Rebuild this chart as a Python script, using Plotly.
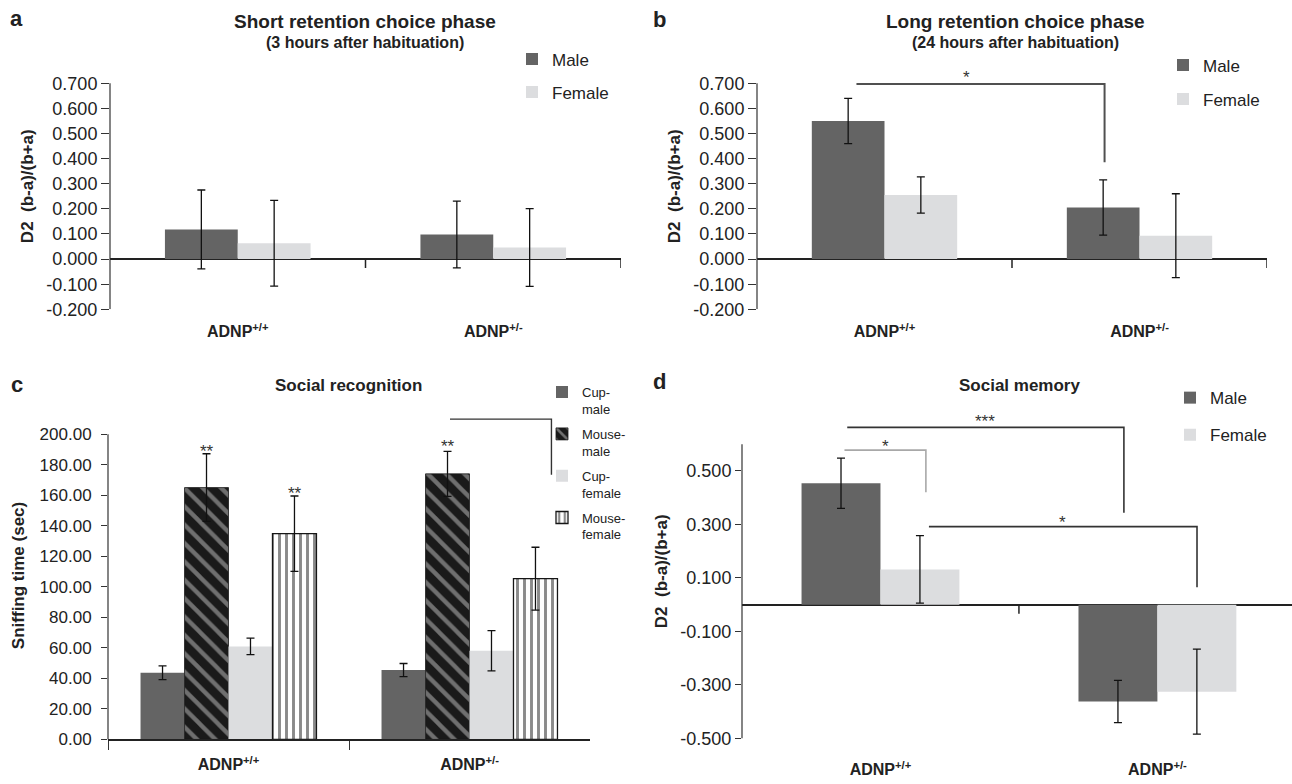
import plotly.graph_objects as go

# ---------------- data ----------------
groups = ["ADNP+/+", "ADNP+/-"]
group_labels = ["<b>ADNP<sup>+/+</sup></b>", "<b>ADNP<sup>+/-</sup></b>"]

# Panel a: short retention (3 h)
a_male = [0.118, 0.098]
a_male_err = [0.157, 0.133]
a_female = [0.063, 0.046]
a_female_err = [0.171, 0.155]

# Panel b: long retention (24 h)
b_male = [0.550, 0.205]
b_male_err = [0.090, 0.110]
b_female = [0.255, 0.093]
b_female_err = [0.072, 0.167]

# Panel c: social recognition (sniffing time, sec)
c_names = ["Cup-<br>male", "Mouse-<br>male", "Cup-<br>female", "Mouse-<br>female"]
c_cup_male = [43.7, 45.5]
c_cup_male_err = [4.5, 4.3]
c_mouse_male = [165.1, 174.1]
c_mouse_male_err = [22.2, 14.8]
c_cup_female = [61.0, 58.2]
c_cup_female_err = [5.4, 13.2]
c_mouse_female = [134.9, 105.4]
c_mouse_female_err = [24.7, 20.6]

# Panel d: social memory
d_male = [0.454, -0.362]
d_male_err = [0.094, 0.079]
d_female = [0.132, -0.325]
d_female_err = [0.126, 0.159]

# tick values
ab_ticks = [-0.2, -0.1, 0.0, 0.1, 0.2, 0.3, 0.4, 0.5, 0.6, 0.7]
c_ticks = [0, 20, 40, 60, 80, 100, 120, 140, 160, 180, 200]
d_ticks = [-0.5, -0.3, -0.1, 0.1, 0.3, 0.5]

# significance brackets: (x_start, x_end, y_level, y_drop_to, color, width)
b_brackets = [(-0.11, 0.863, 0.697, 0.386, "#505050", 2.0)]
b_stars = [("*", 0.323, 0.724)]
c_brackets = [(0.919, 1.34, 210, 173.5, "#333333", 1.4)]
c_stars = [("**", -0.091, 189.0), ("**", 0.274, 161.0), ("**", 0.909, 192.0)]
d_brackets = [(-0.13, 0.164, 0.578, 0.42, "#a8a8a8", 1.6),
              (-0.12, 0.879, 0.663, 0.344, "#333333", 1.6),
              (0.175, 1.143, 0.292, 0.065, "#333333", 1.6)]
d_stars = [("*", 0.019, 0.590), ("***", 0.377, 0.685), ("*", 0.657, 0.307)]

# ---------------- style ----------------
FONT = "Liberation Sans, Arial, Helvetica, sans-serif"
TXT = "#222222"
MALE = "#646464"
FEMALE = "#dcdddf"
W, H = 1292, 784


def px(x):
    return x / W


def py(y):
    return 1 - y / H


fig = go.Figure()

err_style = dict(type="data", color="#111111", thickness=1.3, width=4)


def add_bar(y, err, name, xa, ya, legend, color, pattern=None, line=None):
    marker = dict(color=color, line=line or dict(width=0))
    if pattern:
        marker["pattern"] = pattern
    fig.add_trace(go.Bar(
        x=groups, y=y, name=name, xaxis=xa, yaxis=ya,
        marker=marker, error_y=dict(array=err, **err_style),
        legend=legend, legendgroup=legend + name,
    ))


# panel a
add_bar(a_male, a_male_err, "Male", "x", "y", "legend", MALE)
add_bar(a_female, a_female_err, "Female", "x", "y", "legend", FEMALE)
# panel b
add_bar(b_male, b_male_err, "Male", "x2", "y2", "legend2", MALE)
add_bar(b_female, b_female_err, "Female", "x2", "y2", "legend2", FEMALE)
# panel c
add_bar(c_cup_male, c_cup_male_err, c_names[0], "x3", "y3", "legend3", MALE)
add_bar(c_mouse_male, c_mouse_male_err, c_names[1], "x3", "y3", "legend3", "#1a1a1a",
        pattern=dict(shape="\\", fgcolor="#c4c4c4", fillmode="overlay", size=13, solidity=0.33),
        line=dict(color="#1a1a1a", width=0.8))
add_bar(c_cup_female, c_cup_female_err, c_names[2], "x3", "y3", "legend3", FEMALE)
add_bar(c_mouse_female, c_mouse_female_err, c_names[3], "x3", "y3", "legend3", "white",
        pattern=dict(shape="|", fgcolor="#161616", fillmode="overlay", size=7, solidity=0.42),
        line=dict(color="#161616", width=1.3))
# panel d
add_bar(d_male, d_male_err, "Male", "x4", "y4", "legend4", MALE)
add_bar(d_female, d_female_err, "Female", "x4", "y4", "legend4", FEMALE)


def fmt(v, nd):
    return f"{v:.{nd}f}"


def yax(**kw):
    d = dict(showgrid=False, ticks="outside", tickcolor="#333333", tickwidth=1.2, showline=False,
             tickfont=dict(family=FONT, size=18, color=TXT),
             title_font=dict(family=FONT, size=17, color=TXT))
    d.update(kw)
    return d


def xax(**kw):
    d = dict(type="category", showgrid=False, tickvals=groups, ticktext=group_labels,
             tickfont=dict(family=FONT, size=16, color=TXT))
    d.update(kw)
    return d


YT = "<b>D2  (b-a)/(b+a)</b>"
ab_ydom = [py(313.3), py(64.0)]
fig.update_layout(
    xaxis=xax(domain=[px(110), px(621)], anchor="y", range=[-0.5, 1.5], showline=False, ticks="",
              ticklabelstandoff=11),
    yaxis=yax(domain=ab_ydom, anchor="x", range=[-0.2, 0.78], tickvals=ab_ticks,
              ticktext=[fmt(v, 3) for v in ab_ticks], ticklen=8, zeroline=True,
              zerolinecolor="#222222", zerolinewidth=1.5, title=dict(text=YT, standoff=8)),
    xaxis2=xax(domain=[px(757), px(1267)], anchor="y2", range=[-0.5, 1.5], showline=False, ticks="",
               ticklabelstandoff=11),
    yaxis2=yax(domain=ab_ydom, anchor="x2", range=[-0.2, 0.78], tickvals=ab_ticks,
               ticktext=[fmt(v, 3) for v in ab_ticks], ticklen=8, zeroline=True,
               zerolinecolor="#222222", zerolinewidth=1.5, title=dict(text=YT, standoff=8)),
    xaxis3=xax(domain=[px(108), px(590)], anchor="y3", range=[-0.5, 1.5], showline=True,
               linecolor="#222222", linewidth=1.5, ticks="outside", tickson="boundaries", ticklen=9,
               tickcolor="#333333", tickwidth=1.2, ticklabelstandoff=10),
    yaxis3=yax(domain=[py(749), py(416.8)], anchor="x3", range=[0, 215], tickvals=c_ticks,
               ticktext=[fmt(v, 2) for v in c_ticks], ticklen=6, zeroline=False, ticklabelstandoff=6,
               tickfont=dict(family=FONT, size=17, color=TXT),
               title=dict(text="<b>Sniffing time (sec)</b>", standoff=10)),
    xaxis4=xax(domain=[px(742), 1.0], anchor="y4", range=[-0.5, 1.486], showline=False, ticks="",
               ticklabelstandoff=20),
    yaxis4=yax(domain=[py(748), py(409.3)], anchor="x4", range=[-0.5, 0.75], tickvals=d_ticks,
               ticktext=[fmt(v, 3) for v in d_ticks], ticklen=6, zeroline=True,
               zerolinecolor="#222222", zerolinewidth=1.5, title=dict(text=YT, standoff=8)),
)

# legends
leg_common = dict(xanchor="left", yanchor="top", bgcolor="rgba(0,0,0,0)", traceorder="grouped",
                  itemwidth=30, itemclick=False, itemdoubleclick=False)
fig.update_layout(
    legend=dict(x=px(512), y=py(42), font=dict(family=FONT, size=17, color=TXT), tracegroupgap=8, **leg_common),
    legend2=dict(x=px(1163), y=py(48), font=dict(family=FONT, size=17, color=TXT), tracegroupgap=9, **leg_common),
    legend3=dict(x=px(542), y=py(382), font=dict(family=FONT, size=13, color=TXT), tracegroupgap=5,
                 valign="top", **leg_common),
    legend4=dict(x=px(1170), y=py(385), font=dict(family=FONT, size=17, color=TXT), tracegroupgap=12, **leg_common),
)

fig.update_layout(
    barmode="group", bargap=0.43, bargroupgap=0,
    width=W, height=H, margin=dict(l=0, r=0, t=0, b=0),
    paper_bgcolor="white", plot_bgcolor="white",
    font=dict(family=FONT, color=TXT),
)
# panel c: four bars per group with a narrower gap
c_bw = (1 - 0.27) / 4
for i, tr in enumerate(fig.data[4:8]):
    tr.width = c_bw
    tr.offset = -2 * c_bw + i * c_bw

shapes = []
# boundary ticks hanging from the zero lines (a, b, d)
for xr, yr, pos in [("x", "y", [0.5, 1.5]), ("x2", "y2", [0.5, 1.5]), ("x4", "y4", [0.5])]:
    for p in pos:
        shapes.append(dict(type="line", xref=xr, yref=yr, x0=p, x1=p, ysizemode="pixel", yanchor=0,
                           y0=0, y1=-9, line=dict(color="#222222", width=1.5)))
# y-axis lines (drawn only over the tick span)
for xr, yr, lo, hi in [("x domain", "y", -0.2, 0.7), ("x2 domain", "y2", -0.2, 0.7),
                       ("x3 domain", "y3", 0, 200), ("x4 domain", "y4", -0.5, 0.6)]:
    shapes.append(dict(type="line", xref=xr, yref=yr, x0=0, x1=0, y0=lo, y1=hi,
                       line=dict(color="#333333", width=1.2)))

annotations = []


def add_brackets(br, stars, xr, yr):
    for x0, x1, yl, yd, col, wd in br:
        shapes.append(dict(type="path", xref=xr, yref=yr,
                           path=f"M {x0},{yl} L {x1},{yl} L {x1},{yd}",
                           line=dict(color=col, width=wd)))
    for t, x, y in stars:
        annotations.append(dict(text=t, x=x, y=y, xref=xr, yref=yr, showarrow=False,
                                font=dict(family=FONT, size=17, color="#333333"),
                                xanchor="center", yanchor="middle"))


add_brackets(b_brackets, b_stars, "x2", "y2")
add_brackets(c_brackets, c_stars, "x3", "y3")
add_brackets(d_brackets, d_stars, "x4", "y4")

# titles and panel letters
texts = [
    ("<b>a</b>", 16, 19, 22), ("<b>b</b>", 659, 20, 22), ("<b>c</b>", 17, 389, 22), ("<b>d</b>", 659, 386, 22),
    ("<b>Short retention choice phase</b>", 365, 22, 19),
    ("<b>(3 hours after habituation)</b>", 365, 43.5, 16),
    ("<b>Long retention choice phase</b>", 1015, 22, 19),
    ("<b>(24 hours after habituation)</b>", 1015, 43.5, 16),
    ("<b>Social recognition</b>", 348, 390, 17),
    ("<b>Social memory</b>", 1019, 390, 17),
]
for t, x, y, s in texts:
    annotations.append(dict(text=t, x=px(x), y=py(y), xref="paper", yref="paper", showarrow=False,
                            xanchor="center", yanchor="middle", font=dict(family=FONT, size=s, color=TXT)))

fig.update_layout(shapes=shapes, annotations=annotations)

fig.write_html("out.html", config={"displayModeBar": False},
               post_script="document.body.style.margin='0';document.body.style.overflow='hidden';")
